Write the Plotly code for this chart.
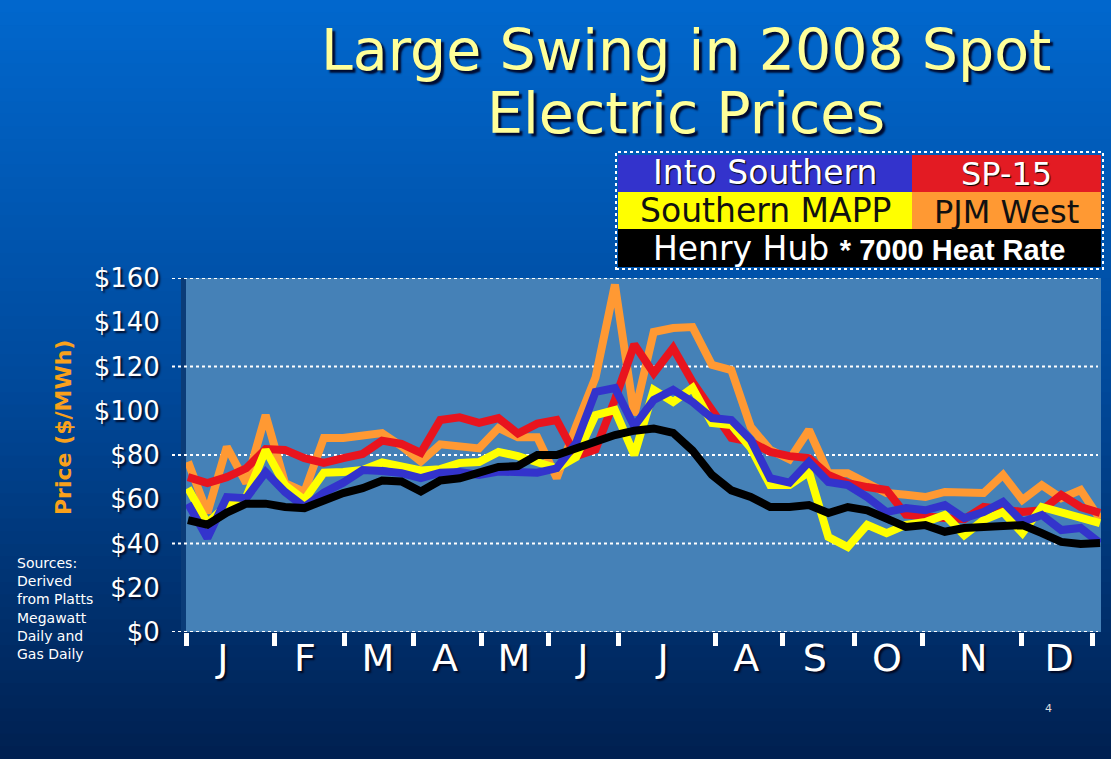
import plotly.graph_objects as go

# ---------------- data (weekly, 2008) ----------------
weeks = list(range(48))
into_southern = [58, 42.5, 61, 60.5, 72.3, 63.3, 56.5, 63, 67.5, 73.2,
                 72.8, 71.8, 69.6, 72, 72.3, 71, 72.5, 71.8, 72, 74,
                 85.4, 108.5, 110.3, 93, 104.9, 109.4, 104, 96.7, 95.8, 86.8,
                 69.5, 67.5, 76.8, 67.8, 66.4, 61, 54.2, 56, 55, 57.4,
                 51.5, 54.2, 58.8, 49.7, 52.9, 46.1, 47, 40.2]
sp15 = [70, 67.3, 70, 74, 82.7, 82.3, 78.6, 76.4, 78.6, 80.5,
        86.5, 85, 81, 95.8, 97, 94.5, 96.7, 89.7, 94.2, 95.8,
        79.5, 82.5, 105, 130, 117, 128.4, 113, 100.3, 87.7, 86,
        81.4, 79.5, 78.6, 71, 67.3, 65.5, 64.2, 53, 52, 51.5,
        51, 56.5, 55.5, 54.2, 55, 62, 56.5, 53.8]
southern_mapp = [65, 49.2, 57.4, 61, 82.3, 66.4, 59.7, 72, 72.3, 73.2,
                 76.6, 74.8, 73, 73.6, 76.4, 76.8, 81.4, 79.5, 76.8, 74,
                 79, 98, 100.3, 80, 109.4, 104, 110.3, 94.5, 93.6, 83.2,
                 66.4, 66.4, 72.3, 42.9, 38.4, 48.4, 44.7, 48.4, 49.7, 52.9,
                 43.8, 50.6, 54.2, 44.7, 56.5, 54.2, 52, 49.2]
pjm_west = [77, 53.8, 83.7, 67.3, 98, 67.3, 63.3, 87.7, 87.7, 88.6,
            89.9, 84, 77, 84.8, 83.5, 83, 92.2, 88, 88, 69.6,
            93, 115, 157, 98, 135.6, 137.4, 137.8, 120.7, 118.4, 92.7,
            82.3, 78, 91.3, 71.8, 71.8, 67.3, 62.8, 62, 61, 63.3,
            63.3, 62.8, 71, 59.7, 66.4, 60.5, 64.2, 51]
henry_hub_7000 = [50.6, 48.5, 54, 58, 58, 56.5, 56, 59.7, 62.8, 65,
                  68.5, 68, 63.5, 68.5, 69.5, 72, 74.6, 75, 80, 80,
                  83, 86, 89, 91, 92, 90, 82, 71, 64, 61,
                  56.5, 56.5, 57.4, 53.8, 56.5, 55, 51.5, 47.5, 48.3, 45.3,
                  47, 47.5, 47.5, 48.3, 44.7, 40.7, 39.8, 40.2]

month_labels = ["J", "F", "M", "A", "M", "J", "J", "A", "S", "O", "N", "D"]
month_label_pos = [1.8, 6.03, 9.79, 13.25, 16.8, 20.35, 24.49, 28.77, 32.3, 36.02, 40.46, 44.89]
month_bounds = [-0.1, 4.48, 8.09, 11.6, 15.1, 18.6, 22.16, 27.2, 30.66, 34.37, 37.83, 42.93, 46.59]
price_ticks = [0, 20, 40, 60, 80, 100, 120, 140, 160]
grid_vals = [0, 40, 80, 120, 160]

# ---------------- geometry helpers ----------------
W, H = 1111, 759
L, R, T, B = 186, 10, 278, 127
PW, PH = W - L - R, H - T - B


def px(x):
    return (x - L) / PW


def py(y):
    return (H - B - y) / PH


FONT = "DejaVu Sans"
SHADOW = "2px 2px 2px rgba(0,0,20,0.85)"

fig = go.Figure()

series = [
    ("PJM West", pjm_west, "#FF9933"),
    ("SP-15", sp15, "#E8141E"),
    ("Southern MAPP", southern_mapp, "#FFFF00"),
    ("Into Southern", into_southern, "#3333CC"),
    ("Henry Hub * 7000 Heat Rate", henry_hub_7000, "#000000"),
]
for name, vals, col in series:
    fig.add_trace(go.Scatter(x=weeks, y=vals, name=name, mode="lines",
                             line=dict(color=col, width=8),
                             showlegend=False, hoverinfo="skip"))

shapes = []
# background gradient of the slide
top = (2, 104, 206)
mid = (0, 74, 156)
bot = (0, 32, 80)
N = 60
for k in range(N):
    y0 = H * k / N
    y1 = H * (k + 1) / N + 1
    t = (k + 0.5) / N
    if t < 0.5:
        f = t / 0.5
        c = tuple(int(top[j] + (mid[j] - top[j]) * f) for j in range(3))
    else:
        f = (t - 0.5) / 0.5
        c = tuple(int(mid[j] + (bot[j] - mid[j]) * f) for j in range(3))
    shapes.append(dict(type="rect", xref="paper", yref="paper",
                       x0=px(0), x1=px(W), y0=py(y1), y1=py(y0),
                       line=dict(width=0), fillcolor="rgb(%d,%d,%d)" % c,
                       layer="below"))

# plot area background
shapes.append(dict(type="rect", xref="paper", yref="paper",
                   x0=0, x1=px(1101), y0=0, y1=1,
                   line=dict(width=0), fillcolor="#4581B7", layer="below"))
shapes.append(dict(type="rect", xref="paper", yref="paper",
                   x0=px(181), x1=0, y0=0, y1=1,
                   line=dict(width=0), fillcolor="#0B3C78", layer="below"))

# dotted grid lines (extend a little left of plot area)
for g in grid_vals:
    shapes.append(dict(type="line", xref="paper", yref="y",
                       x0=px(172), x1=px(1098), y0=g, y1=g,
                       line=dict(color="white", width=2, dash="dot"),
                       layer="below"))

# custom legend box
shapes += [
    dict(type="rect", xref="paper", yref="paper", x0=px(618), x1=px(912),
         y0=py(192), y1=py(155), fillcolor="#3333CC", line=dict(width=0)),
    dict(type="rect", xref="paper", yref="paper", x0=px(912), x1=px(1101),
         y0=py(192), y1=py(155), fillcolor="#E31B23", line=dict(width=0)),
    dict(type="rect", xref="paper", yref="paper", x0=px(618), x1=px(912),
         y0=py(229), y1=py(192), fillcolor="#FFFF00", line=dict(width=0)),
    dict(type="rect", xref="paper", yref="paper", x0=px(912), x1=px(1101),
         y0=py(229), y1=py(192), fillcolor="#FF9933", line=dict(width=0)),
    dict(type="rect", xref="paper", yref="paper", x0=px(618), x1=px(1101),
         y0=py(267), y1=py(229), fillcolor="#000000", line=dict(width=0)),
    dict(type="rect", xref="paper", yref="paper", x0=px(616), x1=px(1103),
         y0=py(269), y1=py(152), fillcolor="rgba(0,0,0,0)",
         line=dict(color="white", width=2, dash="dot")),
]

TITLE_FONT = dict(family=FONT, size=57, color="#FFFF99", shadow="3px 3px 2px rgba(0,0,30,0.9)")
LEG = 32
annotations = [
    dict(text="Large Swing in 2008 Spot", x=px(686), y=py(50), xref="paper", yref="paper",
         showarrow=False, xanchor="center", yanchor="middle", font=TITLE_FONT),
    dict(text="Electric Prices", x=px(686), y=py(113), xref="paper", yref="paper",
         showarrow=False, xanchor="center", yanchor="middle", font=TITLE_FONT),
    dict(text="Into Southern", x=px(765), y=py(173), xref="paper", yref="paper",
         showarrow=False, xanchor="center", yanchor="middle",
         font=dict(family=FONT, size=LEG + 1, color="white", shadow="1px 1px 1px #000")),
    dict(text="SP-15", x=px(1006), y=py(174), xref="paper", yref="paper",
         showarrow=False, xanchor="center", yanchor="middle",
         font=dict(family=FONT, size=LEG, color="white", shadow="1px 1px 1px #000")),
    dict(text="Southern MAPP", x=px(765), y=py(211), xref="paper", yref="paper",
         showarrow=False, xanchor="center", yanchor="middle",
         font=dict(family=FONT, size=LEG + 1, color="#111111")),
    dict(text="PJM West", x=px(1006), y=py(212), xref="paper", yref="paper",
         showarrow=False, xanchor="center", yanchor="middle",
         font=dict(family=FONT, size=LEG, color="#111111")),
    dict(text="Henry Hub <span style=\"font-family:'Liberation Sans'; font-weight:bold; font-size:29px\">* 7000 Heat Rate</span>",
         x=px(859), y=py(249), xref="paper", yref="paper",
         showarrow=False, xanchor="center", yanchor="middle",
         font=dict(family=FONT, size=LEG + 1, color="white")),
    dict(text="Price ($/MWh)", x=px(63), y=py(428), xref="paper", yref="paper",
         showarrow=False, xanchor="center", yanchor="middle", textangle=-90,
         font=dict(family=FONT, size=22, color="#F9A11B", weight="bold")),
    dict(text="Sources:<br>Derived<br>from Platts<br>Megawatt<br>Daily and<br>Gas Daily",
         x=px(15), y=py(553), xref="paper", yref="paper", align="left",
         showarrow=False, xanchor="left", yanchor="top",
         font=dict(family=FONT, size=14, color="white")),
    dict(text="4", x=px(1048), y=py(708), xref="paper", yref="paper",
         showarrow=False, xanchor="center", yanchor="middle",
         font=dict(family=FONT, size=11, color="#DDDDDD")),
]

fig.update_layout(
    width=W, height=H,
    margin=dict(l=L, r=R, t=T, b=B, pad=0),
    paper_bgcolor="#00408A",
    plot_bgcolor="rgba(0,0,0,0)",
    shapes=shapes,
    annotations=annotations,
    showlegend=False,
    xaxis=dict(range=[-0.103, 47.05], showgrid=False, zeroline=False, showline=False,
               tickmode="array", tickvals=month_label_pos, ticktext=month_labels,
               ticks="outside", ticklen=4, tickcolor="rgba(0,0,0,0)",
               ticklabelstandoff=-12,
               tickfont=dict(family=FONT, size=38, color="white", shadow=SHADOW),
               minor=dict(tickmode="array", tickvals=month_bounds, ticks="outside",
                          ticklen=13, tickwidth=5, tickcolor="white", showgrid=False)),
    yaxis=dict(range=[0, 160], showgrid=False, zeroline=False, showline=False,
               tickmode="array", tickvals=price_ticks,
               ticktext=["$%d" % v for v in price_ticks],
               ticks="outside", ticklen=20, tickcolor="rgba(0,0,0,0)",
               tickfont=dict(family=FONT, size=26, color="white", shadow=SHADOW)),
)

fig.write_html("out.html", config={"displayModeBar": False},
               post_script="document.body.style.margin='0px';document.body.style.overflow='hidden';")
